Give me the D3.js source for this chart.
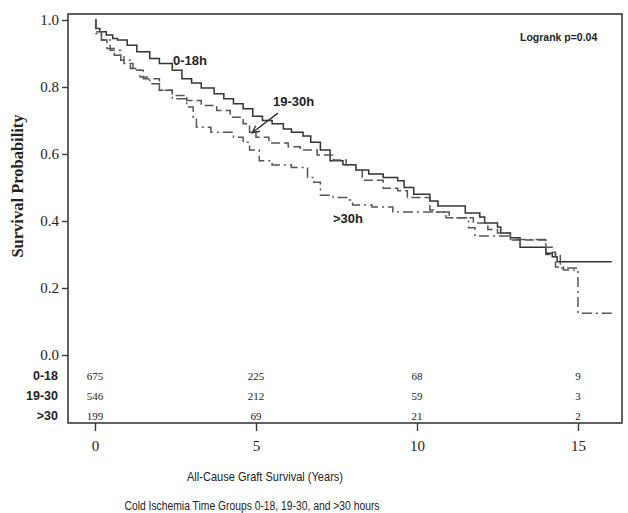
<!DOCTYPE html>
<html>
<head>
<meta charset="utf-8">
<script src="https://cdn.jsdelivr.net/npm/d3@7"></script>
<style>
  body { margin: 0; background: #fff; }
  svg { display: block; }
</style>
</head>
<body>
<svg id="chart" width="628" height="513"></svg>
<script>
// Kaplan-Meier steps: [years, survival]
var group0_18 = [
  [0, 1.0], [0.02, 0.975], [0.15, 0.965], [0.35, 0.955], [0.55, 0.945], [0.7, 0.94],
  [1.0, 0.925], [1.3, 0.905], [1.7, 0.885], [2.0, 0.87], [2.4, 0.85], [2.7, 0.825],
  [3.0, 0.812], [3.3, 0.797], [3.7, 0.78], [4.0, 0.765], [4.3, 0.75], [4.6, 0.735],
  [4.9, 0.713], [5.2, 0.70], [5.5, 0.69], [5.85, 0.675], [6.1, 0.665], [6.46, 0.654],
  [6.7, 0.635], [7.0, 0.612], [7.3, 0.58], [7.7, 0.568], [8.1, 0.552], [8.5, 0.54],
  [8.95, 0.53], [9.4, 0.52], [9.6, 0.50], [9.9, 0.48], [10.4, 0.46], [10.65, 0.445],
  [11.5, 0.424], [11.95, 0.412], [12.1, 0.394], [12.5, 0.382], [12.6, 0.364],
  [12.9, 0.35], [13.2, 0.322], [14.0, 0.304], [14.2, 0.293], [14.35, 0.278], [16.05, 0.278]
];
var group19_30 = [
  [0, 1.0], [0.03, 0.965], [0.2, 0.94], [0.37, 0.915], [0.6, 0.895], [0.9, 0.87],
  [1.18, 0.85], [1.5, 0.825], [2.0, 0.79], [2.4, 0.775], [2.85, 0.76], [3.3, 0.745],
  [3.78, 0.73], [4.2, 0.71], [4.6, 0.69], [4.8, 0.665], [5.0, 0.65], [5.4, 0.633],
  [6.0, 0.622], [6.37, 0.612], [6.9, 0.597], [7.4, 0.582], [7.8, 0.567], [8.1, 0.552],
  [8.3, 0.522], [8.95, 0.498], [9.4, 0.49], [9.7, 0.47], [10.4, 0.433], [10.6, 0.427],
  [10.9, 0.41], [11.75, 0.394], [12.2, 0.375], [12.5, 0.364], [12.9, 0.343],
  [14.0, 0.322], [14.2, 0.307], [14.3, 0.263], [14.55, 0.254], [14.9, 0.254]
];
var groupOver30 = [
  [0, 1.0], [0.03, 0.96], [0.2, 0.94], [0.47, 0.91], [0.8, 0.88], [1.1, 0.855],
  [1.4, 0.83], [1.7, 0.81], [2.0, 0.79], [2.4, 0.765], [2.85, 0.74], [3.05, 0.71],
  [3.15, 0.68], [3.6, 0.665], [4.3, 0.65], [4.6, 0.635], [4.8, 0.612], [5.1, 0.58],
  [5.5, 0.567], [6.1, 0.56], [6.6, 0.53], [6.8, 0.516], [7.0, 0.477], [7.4, 0.47],
  [7.9, 0.463], [8.0, 0.448], [8.6, 0.442], [9.25, 0.427], [11.0, 0.41], [11.6, 0.38],
  [11.8, 0.355], [12.9, 0.345], [14.0, 0.30], [14.45, 0.26], [15.0, 0.125], [16.05, 0.125]
];

var xTicks = [0, 5, 10, 15];
var yTicks = [0, 0.2, 0.4, 0.6, 0.8, 1.0];

// numbers at risk, one row per group, at the x ticks
var riskLabels = ["0-18", "19-30", ">30"];
var risk0_18 = [675, 225, 68, 9];
var risk19_30 = [546, 212, 59, 3];
var riskOver30 = [199, 69, 21, 2];

var svg = d3.select("#chart");
var frame = {left: 68, top: 14, right: 622, bottom: 423};

var x = d3.scaleLinear().domain([0, 15]).range([95, 578]);
var y = d3.scaleLinear().domain([0, 1]).range([355, 20]);

var ink = "#3a3a3a";
var serif = "'Liberation Serif', 'Times New Roman', serif";
var sans = "'Liberation Sans', Arial, sans-serif";

// plot frame
svg.append("rect")
    .attr("x", frame.left)
    .attr("y", frame.top)
    .attr("width", frame.right - frame.left)
    .attr("height", frame.bottom - frame.top)
    .attr("fill", "none")
    .attr("stroke", ink)
    .attr("stroke-width", 1.6);

// y axis
var yAxis = svg.append("g")
    .attr("transform", "translate(" + frame.left + ",0)")
    .call(d3.axisLeft(y).tickValues(yTicks).tickFormat(d3.format(".1f")).tickSize(6).tickPadding(3));
yAxis.select(".domain").remove();
yAxis.selectAll("line").attr("stroke", ink).attr("stroke-width", 1.4);
yAxis.selectAll("text")
    .attr("font-family", serif)
    .attr("font-size", 15)
    .attr("fill", "#222");

// x axis
var xAxis = svg.append("g")
    .attr("transform", "translate(0," + frame.bottom + ")")
    .call(d3.axisBottom(x).tickValues(xTicks).tickSize(8).tickPadding(9));
xAxis.select(".domain").remove();
xAxis.selectAll("line").attr("stroke", ink).attr("stroke-width", 1.4);
xAxis.selectAll("text")
    .attr("font-family", serif)
    .attr("font-size", 15)
    .attr("fill", "#222");

// curves
var line = d3.line()
    .x(function(d) { return x(d[0]); })
    .y(function(d) { return y(d[1]); })
    .curve(d3.curveStepAfter);

var curves = [
  {data: group0_18, dash: null, color: "#333"},
  {data: group19_30, dash: "9,4", color: "#555"},
  {data: groupOver30, dash: "10,4,2,4", color: "#555"}
];

svg.append("g")
  .selectAll("path")
  .data(curves)
  .enter().append("path")
    .attr("d", function(d) { return line(d.data); })
    .attr("fill", "none")
    .attr("stroke", function(d) { return d.color; })
    .attr("stroke-width", 1.5)
    .attr("stroke-dasharray", function(d) { return d.dash; });

// curve labels
var labels = [
  {text: "0-18h", t: 2.42, v: 0.866},
  {text: "19-30h", t: 5.53, v: 0.743},
  {text: ">30h", t: 7.39, v: 0.394}
];
svg.append("g")
  .selectAll("text")
  .data(labels)
  .enter().append("text")
    .attr("x", function(d) { return x(d.t); })
    .attr("y", function(d) { return y(d.v); })
    .attr("font-family", sans)
    .attr("font-weight", "bold")
    .attr("font-size", 13)
    .attr("fill", "#222")
    .text(function(d) { return d.text; });

// arrow from 19-30h label to its curve
var a0 = [x(5.68), y(0.722)], a1 = [x(4.88), y(0.663)];
var ang = Math.atan2(a1[1] - a0[1], a1[0] - a0[0]);
var head = 8, spread = 0.45;
svg.append("path")
    .attr("d", "M" + a0 + "L" + a1 +
      "M" + [a1[0] - head * Math.cos(ang - spread), a1[1] - head * Math.sin(ang - spread)] +
      "L" + a1 +
      "L" + [a1[0] - head * Math.cos(ang + spread), a1[1] - head * Math.sin(ang + spread)])
    .attr("fill", "none")
    .attr("stroke", "#333")
    .attr("stroke-width", 1.4);

svg.append("text")
    .attr("x", x(15.6))
    .attr("y", y(0.937))
    .attr("text-anchor", "end")
    .attr("font-family", sans)
    .attr("font-weight", "bold")
    .attr("font-size", 10.5)
    .attr("fill", "#222")
    .text("Logrank p=0.04");

// numbers at risk table
var riskRows = [risk0_18, risk19_30, riskOver30];
var rowY = [380, 400, 420];
var rows = svg.append("g")
  .selectAll("g")
  .data(riskRows)
  .enter().append("g")
    .attr("transform", function(d, i) { return "translate(0," + rowY[i] + ")"; });

rows.append("text")
    .attr("x", 58)
    .attr("text-anchor", "end")
    .attr("font-family", sans)
    .attr("font-weight", "bold")
    .attr("font-size", 12.5)
    .attr("fill", "#222")
    .text(function(d, i) { return riskLabels[i]; });

rows.selectAll("text.n")
  .data(function(d) { return d; })
  .enter().append("text")
    .attr("class", "n")
    .attr("x", function(d, i) { return x(xTicks[i]); })
    .attr("text-anchor", "middle")
    .attr("font-family", serif)
    .attr("font-size", 11)
    .attr("fill", "#222")
    .text(function(d) { return d; });

// axis titles
svg.append("text")
    .attr("transform", "translate(23,186) rotate(-90)")
    .attr("text-anchor", "middle")
    .attr("font-family", serif)
    .attr("font-weight", "bold")
    .attr("font-size", 16.5)
    .attr("fill", "#222")
    .text("Survival Probability");

svg.append("text")
    .attr("x", 265)
    .attr("y", 481)
    .attr("text-anchor", "middle")
    .attr("font-family", sans)
    .attr("font-size", 13)
    .attr("textLength", 156)
    .attr("lengthAdjust", "spacingAndGlyphs")
    .attr("fill", "#222")
    .text("All-Cause Graft Survival (Years)");

svg.append("text")
    .attr("x", 252)
    .attr("y", 510)
    .attr("text-anchor", "middle")
    .attr("font-family", sans)
    .attr("font-size", 12.5)
    .attr("textLength", 255)
    .attr("lengthAdjust", "spacingAndGlyphs")
    .attr("fill", "#222")
    .text("Cold Ischemia Time Groups 0-18, 19-30, and  >30 hours");
</script>
</body>
</html>
